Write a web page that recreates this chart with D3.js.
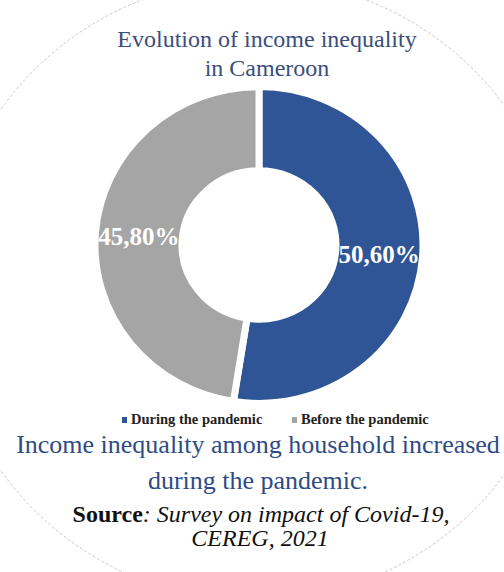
<!DOCTYPE html>
<html>
<head>
<meta charset="utf-8">
<script src="https://cdn.jsdelivr.net/npm/d3@7/dist/d3.min.js"></script>
<style>
  body { margin:0; background:#fff; }
  svg text { font-family:"Liberation Serif","Times New Roman",serif; }
</style>
</head>
<body>
<svg></svg>
<script>
// chart data
var categories = ["During the pandemic", "Before the pandemic"]
var values = [50.60, 45.80]
var colors = ["#2f5597", "#a5a5a5"]
var titleLines = ["Evolution of income inequality", "in Cameroon"]
var captionLines = ["Income inequality among household increased", "during the pandemic."]

var screen = {width:504, height:572}

var svg = d3.select("svg")
    .attr("width", screen.width)
    .attr("height", screen.height)

// faint round frame of the original picture
svg.append("circle")
    .attr("cx", 254)
    .attr("cy", 290)
    .attr("r", 311)
    .attr("fill", "none")
    .attr("stroke", "#c8c8c8")
    .attr("stroke-width", 1)
    .attr("stroke-dasharray", "3,2")

// title
svg.selectAll(".title")
    .data(titleLines)
    .enter()
    .append("text")
    .attr("class", "title")
    .attr("x", 267)
    .attr("y", function(d, i){ return 47 + i*29 })
    .attr("text-anchor", "middle")
    .attr("font-size", 24)
    .attr("fill", "#3a4f7c")
    .text(function(d){ return d })

// donut
var cx = 259, cy = 245
var outerR = 164, innerR = 77

var pie = d3.pie().sort(null).value(function(d){ return d })
var arcs = pie(values)
var arc = d3.arc().innerRadius(innerR).outerRadius(outerR)

var g = svg.append("g")
    .attr("transform", "translate(" + cx + "," + cy + ") scale(1,0.965)")

g.selectAll("path")
    .data(arcs)
    .enter()
    .append("path")
    .attr("d", arc)
    .attr("fill", function(d, i){ return colors[i] })
    .attr("stroke", "#fff")
    .attr("stroke-width", 7)

var fmt = function(v){ return v.toFixed(2).replace(".", ",") + "%" }

svg.selectAll(".lbl")
    .data(arcs)
    .enter()
    .append("text")
    .attr("class", "lbl")
    .attr("x", function(d){ return cx + arc.centroid(d)[0] })
    .attr("y", function(d){ return cy + arc.centroid(d)[1]*0.965 })
    .attr("dy", "0.35em")
    .attr("text-anchor", "middle")
    .attr("font-size", 25)
    .attr("font-weight", "bold")
    .attr("fill", "#fff")
    .text(function(d){ return fmt(d.value) })

// legend
var legendX = [122, 292]
var legend = svg.selectAll(".leg")
    .data(categories)
    .enter()
    .append("g")
    .attr("class", "leg")
    .attr("transform", function(d, i){ return "translate(" + legendX[i] + ",0)" })

legend.append("rect")
    .attr("x", 0)
    .attr("y", 417)
    .attr("width", 5)
    .attr("height", 6)
    .attr("fill", function(d, i){ return colors[i] })

legend.append("text")
    .attr("x", 9)
    .attr("y", 424)
    .attr("font-size", 14.5)
    .attr("font-weight", "bold")
    .attr("fill", "#222")
    .text(function(d){ return d })

// caption
svg.selectAll(".cap")
    .data(captionLines)
    .enter()
    .append("text")
    .attr("class", "cap")
    .attr("x", 258)
    .attr("y", function(d, i){ return 453 + i*36 })
    .attr("text-anchor", "middle")
    .attr("font-size", 26)
    .attr("fill", "#2e4b85")
    .text(function(d){ return d })

// source
var src = svg.append("text")
    .attr("x", 261)
    .attr("y", 522)
    .attr("text-anchor", "middle")
    .attr("font-size", 24)
    .attr("fill", "#111")
src.append("tspan").attr("font-weight", "bold").text("Source")
src.append("tspan").attr("font-style", "italic").text(": Survey on impact of Covid-19,")

svg.append("text")
    .attr("x", 260)
    .attr("y", 546)
    .attr("text-anchor", "middle")
    .attr("font-size", 24)
    .attr("font-style", "italic")
    .attr("fill", "#111")
    .text("CEREG, 2021")
</script>
</body>
</html>
